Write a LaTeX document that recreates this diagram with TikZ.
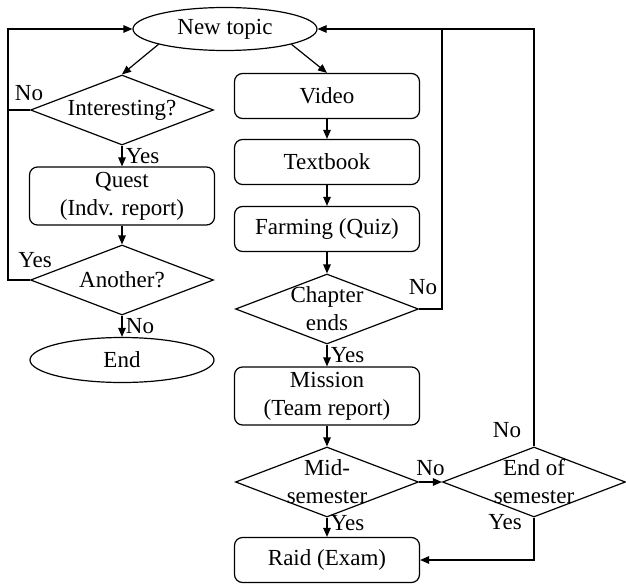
\documentclass[tikz,border=0pt]{standalone}
\usepackage{fontspec}
\setmainfont{Liberation Serif}
\usetikzlibrary{arrows.meta, shapes.geometric}

\begin{document}
\begin{tikzpicture}[x=1pt, y=-1pt, line width=1.2pt,
    every node/.style={font=\fontsize{23}{28}\selectfont},
    term/.style={ellipse, draw, minimum width=184pt, minimum height=43pt, inner sep=0pt},
    proc/.style={draw, rounded corners=8pt, minimum width=185pt, minimum height=45pt, inner sep=0pt, align=center},
    dec/.style={diamond, draw, aspect=2.6, minimum width=183pt, minimum height=70pt, inner sep=0pt,
        label={[align=center]center:#1}},
    arr/.style={-{Triangle[length=9pt,width=7.5pt]}}]
    \useasboundingbox (0,0) rectangle (626,586);
    % left column
    \node[term] (nt) at (225,29) {New topic};
    \node[dec={Interesting?}] (int) at (122,110) {};
    \node[proc, minimum height=58pt] (quest) at (122,196) {Quest\\(Indv. report)};
    \node[dec={Another?}] (ano) at (122,280) {};
    \node[term, minimum height=45pt] (end) at (122,360) {End};
    % right column
    \node[proc] (video) at (327,96) {Video};
    \node[proc] (text) at (327,162) {Textbook};
    \node[proc] (farm) at (327,229) {Farming (Quiz)};
    \node[dec={Chapter\\ends}] (chap) at (327,309) {};
    \node[proc, minimum height=58pt] (mis) at (327,396) {Mission\\(Team report)};
    \node[dec={Mid-\\semester}] (mid) at (327,482) {};
    \node[dec={End of\\semester}] (eos) at (534,482) {};
    \node[proc] (raid) at (327,560) {Raid (Exam)};
    \coordinate (lft) at (8,29);
    \coordinate (back) at (442,29);

    \draw[arr] (nt.193) -- (int.north);
    \draw[arr] (nt.-13) -- (video.north);
    \draw[arr] (int.south) -- node[right] {Yes} (quest.north);
    \draw[arr] (quest.south) -- (ano.north);
    \draw[arr] (ano.south) -- node[right] {No} (end.north);
    \draw[arr] (int.west) -| (lft) -- (nt.west);
    \draw (ano.west) -| (lft);
    \node (no1) at (29,93) {No};
    \node (yes1) at (35,260) {Yes};

    \draw[arr] (video) -- (text);
    \draw[arr] (text) -- (farm);
    \draw[arr] (farm.south) -- (chap.north);
    \draw[arr] (chap.south) -- node[right] {Yes} (mis.north);
    \draw[arr] (mis.south) -- (mid.north);
    \draw[arr] (mid.south) -- node[right, yshift=4pt] {Yes} (raid.north);
    \draw[arr] (mid.east) -- node[above, yshift=2pt] {No} (eos.west);
    \draw[arr] (chap.east) -| (back) -- (nt.east);
    \draw (eos.north) |- (back);
    \draw[arr] (eos.south) |- (raid.east);
    \node (no2) at (423,287) {No};
    \node (no3) at (507,430) {No};
    \node (yes2) at (505,522) {Yes};
\end{tikzpicture}
\end{document}
